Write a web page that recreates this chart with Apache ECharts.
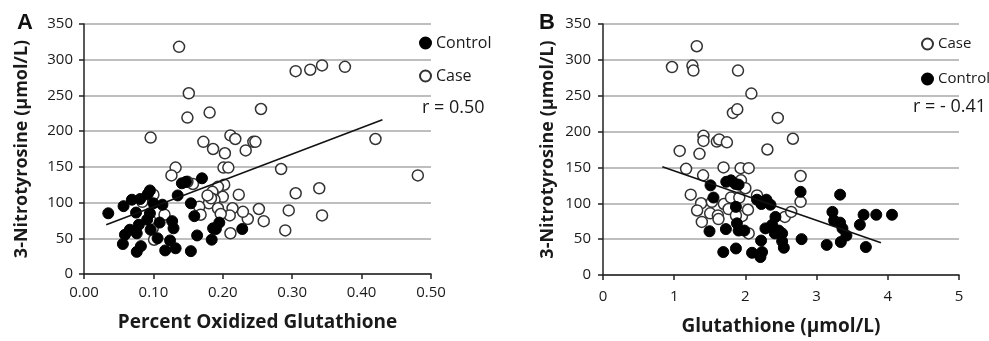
<!DOCTYPE html>
<html>
<head>
<meta charset="utf-8">
<script src="https://cdn.jsdelivr.net/npm/echarts@6/dist/echarts.min.js"></script>
<style>
  html, body { margin: 0; padding: 0; background: #fff; }
  #chart { width: 989px; height: 341px; }
</style>
</head>
<body>
<div id="chart"></div>
<script>
// Panel A: % oxidized glutathione vs 3-nitrotyrosine
const caseA = [
  [0.137, 318], [0.151, 253], [0.149, 219], [0.181, 226], [0.096, 191],
  [0.172, 185], [0.186, 175], [0.203, 169], [0.211, 194], [0.218, 189],
  [0.233, 173], [0.244, 185], [0.247, 185], [0.255, 231], [0.201, 149],
  [0.208, 149], [0.132, 149], [0.126, 138], [0.284, 147], [0.305, 284],
  [0.326, 286], [0.343, 292], [0.376, 290], [0.420, 189], [0.481, 138],
  [0.305, 113], [0.339, 120], [0.343, 82], [0.295, 89], [0.290, 61],
  [0.252, 91], [0.259, 74], [0.236, 77], [0.229, 87], [0.223, 111],
  [0.214, 92], [0.210, 82], [0.211, 57], [0.202, 125], [0.200, 108],
  [0.193, 122], [0.185, 115], [0.188, 104], [0.180, 99], [0.183, 106],
  [0.178, 110], [0.193, 92], [0.197, 84], [0.166, 94], [0.168, 83],
  [0.157, 126], [0.149, 129], [0.096, 114], [0.100, 111], [0.084, 101],
  [0.116, 83], [0.099, 64], [0.095, 76], [0.101, 48]
];
const controlA = [
  [0.035, 85], [0.057, 95], [0.069, 104], [0.081, 105], [0.075, 86],
  [0.092, 112], [0.095, 117], [0.100, 99], [0.113, 97], [0.095, 85],
  [0.109, 72], [0.079, 69], [0.066, 62], [0.059, 55], [0.056, 42],
  [0.076, 57], [0.082, 39], [0.076, 31], [0.096, 62], [0.106, 50],
  [0.117, 33], [0.124, 47], [0.132, 36], [0.129, 64], [0.127, 74],
  [0.135, 110], [0.141, 127], [0.147, 129], [0.170, 134], [0.154, 99],
  [0.159, 81], [0.163, 54], [0.154, 32], [0.184, 48], [0.190, 63],
  [0.195, 72], [0.186, 64], [0.228, 63], [0.091, 76]
];
const trendA = [[0.032, 69], [0.430, 216]];
const rTextA = 'r = 0.50';

// Panel B: glutathione vs 3-nitrotyrosine
const caseB = [
  [1.317, 319], [0.969, 290], [1.256, 292], [1.270, 285], [1.896, 285],
  [2.084, 253], [1.825, 226], [1.886, 231], [2.455, 219], [1.077, 173],
  [1.355, 169], [1.411, 194], [1.411, 187], [1.599, 186], [1.632, 189],
  [1.740, 185], [2.667, 190], [2.309, 175], [1.167, 148], [1.406, 139],
  [1.693, 150], [1.933, 149], [2.046, 149], [2.775, 138], [2.775, 102],
  [1.232, 112], [1.378, 100], [1.322, 90], [1.388, 74], [1.505, 86],
  [1.529, 102], [1.613, 83], [1.622, 78], [1.698, 99], [1.764, 92],
  [1.797, 108], [1.938, 132], [1.999, 121], [1.914, 108], [1.952, 82],
  [2.036, 91], [2.046, 58], [2.163, 111], [2.554, 81], [2.643, 88],
  [1.867, 83]
];
const controlB = [
  [1.510, 125], [1.552, 108], [1.496, 61], [1.726, 64], [1.689, 32],
  [1.867, 37], [1.731, 130], [1.797, 132], [1.858, 127], [1.905, 126],
  [1.867, 95], [1.881, 72], [1.905, 62], [1.985, 62], [2.093, 31],
  [2.234, 32], [2.211, 25], [2.220, 48], [2.163, 105], [2.224, 99],
  [2.295, 105], [2.352, 98], [2.281, 65], [2.375, 70], [2.422, 81],
  [2.413, 58], [2.469, 62], [2.516, 58], [2.540, 38], [2.516, 47],
  [2.789, 50], [2.775, 116], [3.142, 42], [3.222, 88], [3.246, 76],
  [3.330, 73], [3.330, 112], [3.340, 46], [3.363, 65], [3.419, 55],
  [3.608, 70], [3.660, 84], [3.692, 39], [3.838, 84], [4.059, 84]
];
const trendB = [[0.833, 151], [3.904, 45]];
const rTextB = 'r = - 0.41';

const FONT = '"Open Sans", sans-serif';
const yTitle = '3-Nitrotyrosine (\u03bcmol/L)';

const chart = echarts.init(document.getElementById('chart'), null, { renderer: 'canvas' });

function xAxisCfg(idx, max, interval, name, fmt, gap, margin) {
  return {
    gridIndex: idx, type: 'value', min: 0, max: max, interval: interval,
    name: name, nameLocation: 'middle', nameGap: gap,
    nameTextStyle: { fontFamily: FONT, fontSize: 19, fontWeight: 'bold', color: '#1a1a1a' },
    axisLine: { lineStyle: { color: '#222', width: 1.5 } },
    axisTick: { show: true, length: 5, lineStyle: { color: '#222', width: 1.5 } },
    axisLabel: { fontFamily: FONT, fontSize: 15, color: '#1a1a1a', margin: margin, formatter: fmt },
    splitLine: { show: false }
  };
}
function yAxisCfg(idx, gap, margin) {
  return {
    gridIndex: idx, type: 'value', min: 0, max: 350, interval: 50,
    name: yTitle, nameLocation: 'middle', nameGap: gap,
    nameTextStyle: { fontFamily: FONT, fontSize: 18, fontWeight: 'bold', color: '#1a1a1a' },
    axisLine: { show: true, lineStyle: { color: '#222', width: 1.5 } },
    axisTick: { show: true, length: 5, lineStyle: { color: '#222', width: 1.5 } },
    axisLabel: { fontFamily: FONT, fontSize: 15, color: '#1a1a1a', margin: margin },
    splitLine: { show: true, lineStyle: { color: '#a8a8a8', width: 1.5 } }
  };
}

const openStyle = { color: '#fff', borderColor: '#333', borderWidth: 1.5, opacity: 1 };
const filledStyle = { color: '#000', borderColor: '#000', borderWidth: 1, opacity: 1 };

chart.setOption({
  animation: false,
  backgroundColor: '#fff',
  grid: [
    { left: 84, top: 24, width: 347, height: 250 },
    { left: 603, top: 24, width: 356, height: 253 }
  ],
  xAxis: [
    xAxisCfg(0, 0.5, 0.1, 'Percent Oxidized Glutathione', v => v.toFixed(2), 39, 11),
    xAxisCfg(1, 5, 1, 'Glutathione (\u03bcmol/L)', v => String(v), 42, 14)
  ],
  yAxis: [yAxisCfg(0, 53, 11), yAxisCfg(1, 46, 12)],
  legend: [
    {
      data: ['Control', 'Case'], orient: 'vertical', left: 414, top: 30,
      itemWidth: 11, itemHeight: 11, itemGap: 17, selectedMode: false,
      textStyle: { fontFamily: FONT, fontSize: 16, color: '#1a1a1a', lineHeight: 16 }
    },
    {
      data: ['Case', 'Control'], orient: 'vertical', left: 916, top: 31,
      itemWidth: 11, itemHeight: 11, itemGap: 19, selectedMode: false,
      textStyle: { fontFamily: FONT, fontSize: 15, color: '#1a1a1a', lineHeight: 16 }
    }
  ],
  graphic: [
    { type: 'text', left: 17, top: 12, style: { text: 'A', font: 'bold 22px "Liberation Sans", Arial, sans-serif', fill: '#111' } },
    { type: 'text', left: 539, top: 12, style: { text: 'B', font: 'bold 22px "Liberation Sans", Arial, sans-serif', fill: '#111' } },
    { type: 'text', left: 422, top: 99, style: { text: rTextA, font: '18px ' + FONT, fill: '#1a1a1a' } },
    { type: 'text', left: 913, top: 98, style: { text: rTextB, font: '18px ' + FONT, fill: '#1a1a1a' } }
  ],
  series: [
    { name: 'Case', type: 'scatter', xAxisIndex: 0, yAxisIndex: 0, data: caseA,
      symbol: 'circle', symbolSize: 11, itemStyle: openStyle, z: 3 },
    { name: 'Control', type: 'scatter', xAxisIndex: 0, yAxisIndex: 0, data: controlA,
      symbol: 'circle', symbolSize: 11, itemStyle: filledStyle, z: 4 },
    { name: 'trendA', type: 'line', xAxisIndex: 0, yAxisIndex: 0, data: trendA,
      showSymbol: false, lineStyle: { color: '#111', width: 1.5 }, z: 5 },
    { name: 'Case', type: 'scatter', xAxisIndex: 1, yAxisIndex: 1, data: caseB,
      symbol: 'circle', symbolSize: 11, itemStyle: openStyle, z: 3 },
    { name: 'Control', type: 'scatter', xAxisIndex: 1, yAxisIndex: 1, data: controlB,
      symbol: 'circle', symbolSize: 11, itemStyle: filledStyle, z: 4 },
    { name: 'trendB', type: 'line', xAxisIndex: 1, yAxisIndex: 1, data: trendB,
      showSymbol: false, lineStyle: { color: '#111', width: 1.5 }, z: 5 }
  ]
});
</script>
</body>
</html>
